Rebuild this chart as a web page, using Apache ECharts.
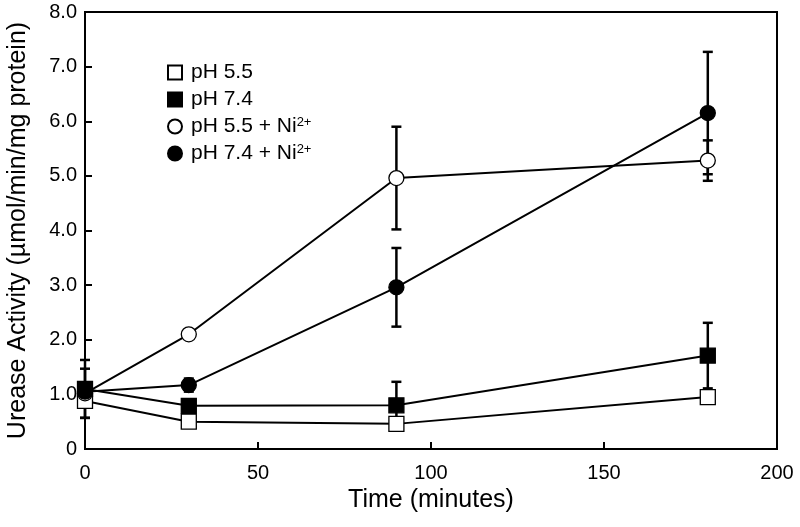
<!DOCTYPE html>
<html><head><meta charset="utf-8">
<script src="https://cdn.jsdelivr.net/npm/echarts@6/dist/echarts.min.js"></script>
<style>html,body{margin:0;padding:0;background:#fff}#c{width:800px;height:527px}</style>
</head><body><div id="c"></div>
<script>
const times = [0, 30, 90, 180];
const seriesNames = ['pH 5.5', 'pH 7.4', 'pH 5.5 + Ni2+', 'pH 7.4 + Ni2+'];
const ph55 = [0.88, 0.50, 0.46, 0.95];
const ph74 = [1.10, 0.79, 0.80, 1.71];
const ph55Ni = [1.02, 2.10, 4.96, 5.28];
const ph74Ni = [1.05, 1.17, 2.96, 6.15];
const ph55Err = [0.0, 0.0, 0.0, 0.0];
const ph74Err = [0.53, 0.10, 0.43, 0.60];
const ph55NiErr = [0.45, 0.0, 0.94, 0.37];
const ph74NiErr = [0.0, 0.12, 0.72, 1.12];
const yTicks = ['0', '1.0', '2.0', '3.0', '4.0', '5.0', '6.0', '7.0', '8.0'];

const vals = [ph55, ph74, ph55Ni, ph74Ni];
const errs = [ph55Err, ph74Err, ph55NiErr, ph74NiErr];
const symbols = ['rect', 'rect', 'circle', 'circle'];
const fills = ['#fff', '#000', '#fff', '#000'];
const F = 'Liberation Sans, Arial, sans-serif';

const series = [];
vals.forEach((v, i) => {
  series.push({
    type: 'custom', z: 1, silent: true,
    data: times.map((t, k) => [t, v[k], errs[i][k]]),
    renderItem: (params, api) => {
      const x = api.value(0), y = api.value(1), e = api.value(2);
      if (!e) return null;
      const top = api.coord([x, y + e]), bot = api.coord([x, y - e]);
      const w = 5;
      const st = {stroke: '#000', lineWidth: 2.5};
      return {type: 'group', children: [
        {type: 'line', shape: {x1: top[0], y1: top[1], x2: bot[0], y2: bot[1]}, style: st},
        {type: 'line', shape: {x1: top[0]-w, y1: top[1], x2: top[0]+w, y2: top[1]}, style: st},
        {type: 'line', shape: {x1: bot[0]-w, y1: bot[1], x2: bot[0]+w, y2: bot[1]}, style: st}
      ]};
    }
  });
});
vals.forEach((v, i) => {
  series.push({
    name: seriesNames[i], type: 'line', z: 3,
    data: times.map((t, k) => [t, v[k]]),
    symbol: symbols[i], symbolSize: 15,
    showAllSymbol: true,
    lineStyle: {color: '#000', width: 2},
    itemStyle: {color: fills[i], borderColor: '#000', borderWidth: 1.3},
    emphasis: {disabled: true}
  });
});

const chart = echarts.init(document.getElementById('c'), null, {renderer: 'canvas'});
chart.setOption({
  animation: false,
  backgroundColor: '#fff',
  grid: {left: 85, right: 23, top: 12, bottom: 78, outerBoundsMode: 'none', containLabel: false,
         show: true, borderColor: '#000', borderWidth: 2, backgroundColor: 'transparent'},
  legend: {
    orient: 'vertical', left: 162, top: 57, itemWidth: 14, itemHeight: 14, itemGap: 6,
    data: seriesNames.map((n, i) => ({name: n, icon: symbols[i]})),
    textStyle: {fontFamily: F, fontSize: 21, color: '#000', padding: [0, 0, 0, 4], rich: {
      sup: {fontFamily: F, fontSize: 13, color: '#000', verticalAlign: 'top', padding: [0, 0, 8, 0]}
    }},
    formatter: n => n.replace('2+', '{sup|2+}'),
    selectedMode: false
  },
  xAxis: {
    type: 'value', min: 0, max: 200, interval: 50,
    name: 'Time (minutes)', nameLocation: 'middle', nameGap: 37,
    nameTextStyle: {fontFamily: F, fontSize: 25, color: '#000'},
    axisLine: {show: true, lineStyle: {color: '#000', width: 2}},
    axisTick: {show: true, inside: true, length: 7, lineStyle: {color: '#000', width: 2}},
    axisLabel: {fontFamily: F, fontSize: 20, color: '#000', margin: 14},
    splitLine: {show: false}
  },
  yAxis: {
    type: 'value', min: 0, max: 8, interval: 1,
    name: 'Urease Activity (\u00b5mol/min/mg protein)', nameLocation: 'middle', nameGap: 54,
    nameTextStyle: {fontFamily: F, fontSize: 25, color: '#000'},
    axisLine: {show: true, lineStyle: {color: '#000', width: 2}},
    axisTick: {show: true, inside: true, length: 7, lineStyle: {color: '#000', width: 2}},
    axisLabel: {fontFamily: F, fontSize: 20, color: '#000', margin: 8, formatter: (v) => yTicks[Math.round(v)]},
    splitLine: {show: false}
  },
  tooltip: {show: false},
  series: series
});
</script></body></html>
